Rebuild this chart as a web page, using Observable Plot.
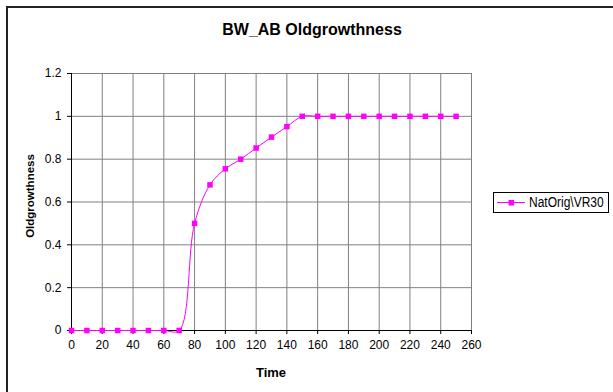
<!DOCTYPE html>
<html>
<head>
<meta charset="utf-8">
<script src="https://cdn.jsdelivr.net/npm/d3@7"></script>
<script src="https://cdn.jsdelivr.net/npm/@observablehq/plot@0.6"></script>
<style>
  html, body { margin: 0; padding: 0; background: #fff; }
  #wrap { position: relative; width: 613px; height: 392px; overflow: hidden; background: #fff; }
  #wrap > svg { position: absolute; left: 0; top: 0; }
  text { font-family: "Liberation Sans", Arial, sans-serif; }
</style>
</head>
<body>
<div id="wrap"></div>
<script>
const chartTitle = "BW_AB Oldgrowthness";
const xTitle = "Time";
const yTitle = "Oldgrowthness";
const seriesName = "NatOrig\\VR30";

const times  = [0, 10, 20, 30, 40, 50, 60, 70, 80, 90, 100, 110, 120, 130, 140, 150, 160, 170, 180, 190, 200, 210, 220, 230, 240, 250];
const values = [0, 0, 0, 0, 0, 0, 0, 0, 0.5, 0.68, 0.755, 0.80, 0.852, 0.903, 0.952, 1, 1, 1, 1, 1, 1, 1, 1, 1, 1, 1];

const xTicks = [0, 20, 40, 60, 80, 100, 120, 140, 160, 180, 200, 220, 240, 260];
const yTicks = [0, 0.2, 0.4, 0.6, 0.8, 1, 1.2];

const color = "#ff00ff";
const data = times.map((t, i) => ({time: t, value: values[i]}));

const W = 613, H = 392;
const mL = 71, mR = 142, mT = 73, mB = 62;

const chart = Plot.plot({
  width: W, height: H,
  marginLeft: mL, marginRight: mR, marginTop: mT, marginBottom: mB,
  style: {fontFamily: '"Liberation Sans", Arial, sans-serif', fontSize: "12px", background: "transparent", color: "#000", overflow: "visible"},
  x: {domain: [0, 260]},
  y: {domain: [0, 1.2]},
  marks: [
    Plot.gridX(xTicks, {stroke: "#808080", strokeOpacity: 1}),
    Plot.gridY(yTicks, {stroke: "#808080", strokeOpacity: 1}),
    Plot.axisX(xTicks, {tickSize: 4, tickPadding: 6, tickFormat: d => String(d), label: null, stroke: "#000", fill: "#000"}),
    Plot.axisY(yTicks, {tickSize: 4, tickPadding: 6, tickFormat: d => String(d), label: null, stroke: "#000", fill: "#000"}),
    Plot.ruleX([0], {stroke: "#000"}),
    Plot.ruleY([0], {stroke: "#000"}),
    Plot.line(data, {x: "time", y: "value", stroke: color, strokeWidth: 1, curve: "catmull-rom"}),
    Plot.dot(data, {x: "time", y: "value", symbol: "square", r: 3.1, fill: color, stroke: "none"})
  ]
});
document.getElementById("wrap").appendChild(chart);

// overlay: border, titles, legend
const ov = d3.select("#wrap").append("svg")
  .attr("width", W).attr("height", H)
  .style("pointer-events", "none");

ov.append("rect").attr("x", 7).attr("y", 7).attr("width", 700).attr("height", 500)
  .attr("fill", "none").attr("stroke", "#222").attr("stroke-width", 2);

ov.append("text").attr("x", 312).attr("y", 35).attr("text-anchor", "middle")
  .attr("font-size", 16).attr("font-weight", "bold").attr("fill", "#000").text(chartTitle);

ov.append("text").attr("x", 271).attr("y", 377).attr("text-anchor", "middle")
  .attr("font-size", 13).attr("font-weight", "bold").attr("fill", "#000").text(xTitle);

ov.append("text").attr("transform", "translate(34,196) rotate(-90)").attr("text-anchor", "middle")
  .attr("font-size", 11.5).attr("font-weight", "bold").attr("fill", "#000").text(yTitle);

// legend
const lg = ov.append("g");
lg.append("rect").attr("x", 493.5).attr("y", 192.5).attr("width", 115).attr("height", 20)
  .attr("fill", "#fff").attr("stroke", "#000").attr("stroke-width", 1);
lg.append("line").attr("x1", 497).attr("x2", 525).attr("y1", 202.5).attr("y2", 202.5)
  .attr("stroke", color).attr("stroke-width", 1);
lg.append("rect").attr("x", 508.5).attr("y", 200).attr("width", 5.5).attr("height", 5.5).attr("fill", color);
lg.append("text").attr("transform", "translate(529,207) scale(1,1.25)").attr("font-size", 12)
  .attr("fill", "#000").text(seriesName);
</script>
</body>
</html>
